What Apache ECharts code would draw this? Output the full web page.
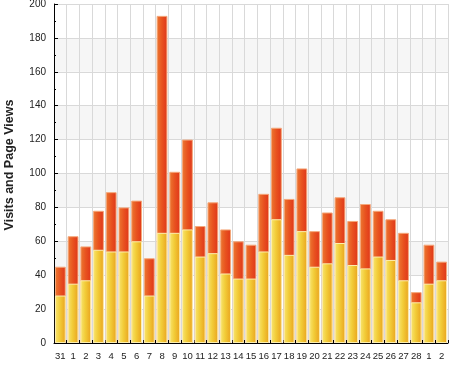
<!DOCTYPE html>
<html>
<head>
<meta charset="utf-8">
<script src="https://cdn.jsdelivr.net/npm/echarts@6/dist/echarts.min.js"></script>
<style>
html,body{margin:0;padding:0;background:#fff;}
#main{width:458px;height:368px;}
</style>
</head>
<body>
<div id="main"></div>
<script>
var categories = ['31','1','2','3','4','5','6','7','8','9','10','11','12','13','14','15','16','17','18','19','20','21','22','23','24','25','26','27','28','1','2'];
var visits = [28,35,37,55,54,54,60,28,65,65,67,51,53,41,38,38,54,73,52,66,45,47,59,46,44,51,49,37,24,35,37];
var pageViews = [45,63,57,78,89,80,84,50,193,101,120,69,83,67,60,58,88,127,85,103,66,77,86,72,82,78,73,65,30,58,48];
var yTicks = {min:0, max:200, interval:20};
var yTitle = 'Visits and Page Views';

var chart = echarts.init(document.getElementById('main'), null, {renderer:'canvas'});
var font = 'Liberation Sans, Arial, sans-serif';
chart.setOption({
  animation:false,
  backgroundColor:'#ffffff',
  grid:{left:54, right:10, top:4, bottom:25, containLabel:false, outerBoundsMode:'none'},
  xAxis:{
    type:'category',
    data:categories,
    boundaryGap:true,
    axisLine:{lineStyle:{color:'#000', width:1}},
    axisTick:{show:true, inside:true, length:3, lineStyle:{color:'#000'}},
    axisLabel:{color:'#222', fontSize:9.5, fontFamily:font, margin:8, interval:0},
    splitLine:{show:true, lineStyle:{color:'#d9d9d9', width:1}}
  },
  yAxis:{
    type:'value',
    min:yTicks.min, max:yTicks.max, interval:yTicks.interval,
    name:yTitle,
    nameLocation:'middle',
    nameGap:38,
    nameTextStyle:{color:'#222', fontSize:12.5, fontWeight:'bold', fontFamily:font, padding:[0,0,0,17]},
    axisLine:{show:true, lineStyle:{color:'#000', width:1}},
    axisTick:{show:true, inside:true, length:4, lineStyle:{color:'#000'}},
    minorTick:{show:true, splitNumber:2, length:2, lineStyle:{color:'#000'}},
    axisLabel:{color:'#222', fontSize:10, fontFamily:font, margin:8},
    splitLine:{show:true, lineStyle:{color:'#d9d9d9', width:1}},
    splitArea:{show:true, areaStyle:{color:['#f6f6f6','#ffffff']}}
  },
  series:[
    {
      name:'Page Views',
      type:'bar',
      data:pageViews,
      barCategoryGap:'15%',
      barGap:'-100%',
      itemStyle:{
        color:{type:'linear', x:0, y:0, x2:1, y2:0, colorStops:[
          {offset:0, color:'#ec7a32'},
          {offset:0.5, color:'#e8521f'},
          {offset:1, color:'#df351a'}
        ]},
        borderColor:'#f4a77a', borderWidth:1
      }
    },
    {
      name:'Visits',
      type:'bar',
      data:visits,
      barCategoryGap:'15%',
      barGap:'-100%',
      itemStyle:{
        color:{type:'linear', x:0, y:0, x2:1, y2:0, colorStops:[
          {offset:0, color:'#f8e672'},
          {offset:0.45, color:'#f2cc38'},
          {offset:1, color:'#e9a21e'}
        ]},
        borderColor:'#fcefb0', borderWidth:1
      }
    }
  ]
});
</script>
</body>
</html>
